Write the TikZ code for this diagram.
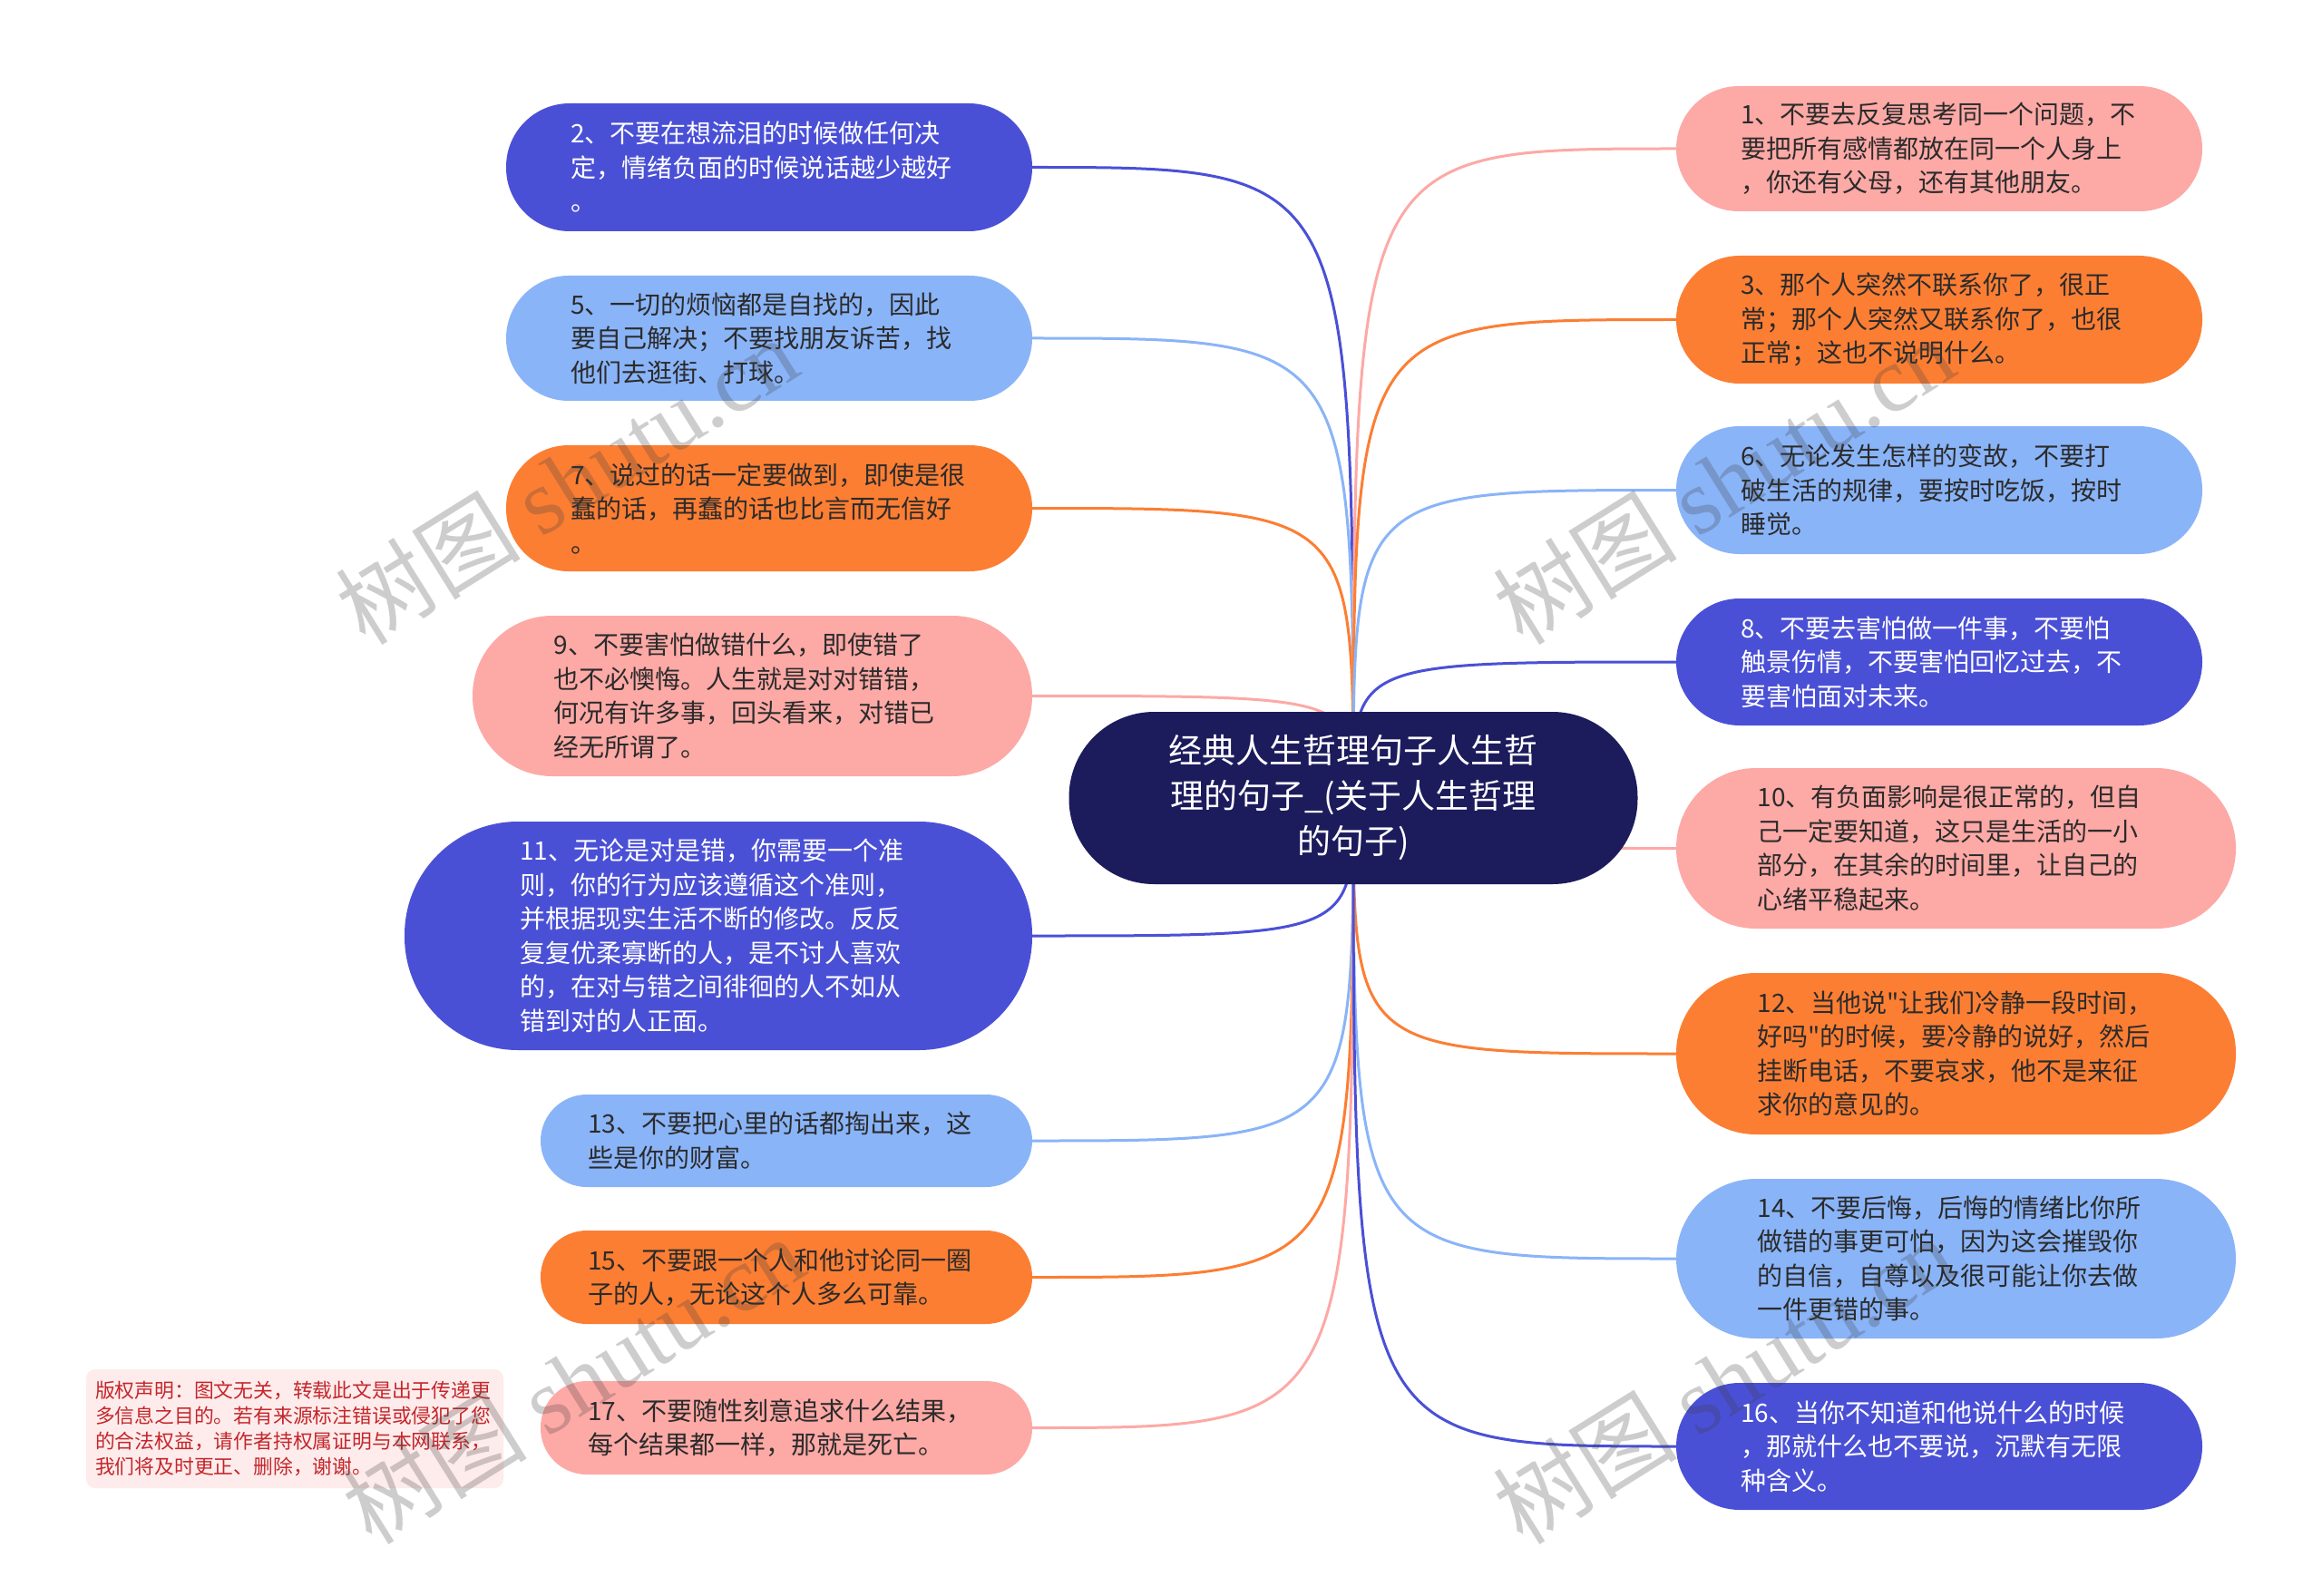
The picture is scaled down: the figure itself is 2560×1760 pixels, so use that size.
\documentclass[tikz,border=0pt]{standalone}
\usepackage{fontspec}
\setmainfont{Noto Sans CJK SC}[Ligatures=TeXOff]
\newfontfamily\wmserif{Liberation Serif}
\usetikzlibrary{backgrounds}
\definecolor{dblue}{HTML}{4A50D6}
\definecolor{lblue}{HTML}{8AB4F8}
\definecolor{orng}{HTML}{FC7E33}
\definecolor{pnk}{HTML}{FDA9A6}
\definecolor{navy}{HTML}{1C1B5C}
\definecolor{darktxt}{HTML}{2B2B2B}
\definecolor{crred}{HTML}{C4262C}
\definecolor{crbg}{HTML}{FDECEB}
\tikzset{
  leaf/.style={rectangle, inner sep=0pt, align=left, text width=438pt,
    font=\fontsize{28}{37.5}\selectfont},
  dk/.style={leaf, fill=dblue, text=white},
  lb/.style={leaf, fill=lblue, text=darktxt},
  og/.style={leaf, fill=orng, text=darktxt},
  pk/.style={leaf, fill=pnk, text=darktxt},
  hub/.style={rectangle, inner sep=0pt, align=center, fill=navy, text=white,
    minimum width=627pt, minimum height=190pt, rounded corners=94pt,
    font=\fontsize{37}{50}\selectfont},
  edge/.style={line width=3pt},
  wm/.style={text=black!75, text opacity=0.26, font=\fontsize{102}{110}\selectfont, inner sep=0pt},
  crbox/.style={rectangle, fill=crbg, rounded corners=10pt, inner sep=0pt, text=crred,
    align=left, text width=440pt, minimum width=460pt, minimum height=131pt,
    font=\fontsize{21.8}{28}\selectfont}
}
\begin{document}
\begin{tikzpicture}[x=1pt,y=-1pt]
\useasboundingbox (0,0) rectangle (2560,1760);

% hub
\node[hub] (c) at (1492,880) {经典人生哲理句子人生哲\\理的句子\_(关于人生哲理\\的句子)};

% left
\node[dk, minimum width=580pt, minimum height=141pt, rounded corners=70pt] (n2) at (848,184.5)
  {2、不要在想流泪的时候做任何决\\定，情绪负面的时候说话越少越好\\。};
\node[lb, minimum width=580pt, minimum height=138pt, rounded corners=69pt] (n5) at (848,373)
  {5、一切的烦恼都是自找的，因此\\要自己解决；不要找朋友诉苦，找\\他们去逛街、打球。};
\node[og, minimum width=580pt, minimum height=139pt, rounded corners=69pt] (n7) at (848,560.5)
  {7、说过的话一定要做到，即使是很\\蠢的话，再蠢的话也比言而无信好\\。};
\node[pk, minimum width=617pt, minimum height=177pt, rounded corners=88pt] (n9) at (829.5,767.5)
  {9、不要害怕做错什么，即使错了\\也不必懊悔。人生就是对对错错，\\何况有许多事，回头看来，对错已\\经无所谓了。};
\node[dk, minimum width=692pt, minimum height=252pt, rounded corners=125pt] (n11) at (792,1032)
  {11、无论是对是错，你需要一个准\\则，你的行为应该遵循这个准则，\\并根据现实生活不断的修改。反反\\复复优柔寡断的人，是不讨人喜欢\\的，在对与错之间徘徊的人不如从\\错到对的人正面。};
\node[lb, minimum width=542pt, minimum height=102pt, rounded corners=51pt] (n13) at (867,1258)
  {13、不要把心里的话都掏出来，这\\些是你的财富。};
\node[og, minimum width=542pt, minimum height=103pt, rounded corners=51pt] (n15) at (867,1408.5)
  {15、不要跟一个人和他讨论同一圈\\子的人，无论这个人多么可靠。};
\node[pk, minimum width=542pt, minimum height=103pt, rounded corners=51pt] (n17) at (867,1574.5)
  {17、不要随性刻意追求什么结果，\\每个结果都一样，那就是死亡。};

% right
\node[pk, minimum width=580pt, minimum height=138pt, rounded corners=69pt] (n1) at (2138,164)
  {1、不要去反复思考同一个问题，不\\要把所有感情都放在同一个人身上\\，你还有父母，还有其他朋友。};
\node[og, minimum width=580pt, minimum height=141pt, rounded corners=70pt] (n3) at (2138,352.5)
  {3、那个人突然不联系你了，很正\\常；那个人突然又联系你了，也很\\正常；这也不说明什么。};
\node[lb, minimum width=580pt, minimum height=141pt, rounded corners=70pt] (n6) at (2138,540.5)
  {6、无论发生怎样的变故，不要打\\破生活的规律，要按时吃饭，按时\\睡觉。};
\node[dk, minimum width=580pt, minimum height=140pt, rounded corners=70pt] (n8) at (2138,730)
  {8、不要去害怕做一件事，不要怕\\触景伤情，不要害怕回忆过去，不\\要害怕面对未来。};
\node[pk, minimum width=617pt, minimum height=177pt, rounded corners=88pt] (n10) at (2156.5,935.5)
  {10、有负面影响是很正常的，但自\\己一定要知道，这只是生活的一小\\部分，在其余的时间里，让自己的\\心绪平稳起来。};
\node[og, minimum width=617pt, minimum height=178pt, rounded corners=88pt] (n12) at (2156.5,1162)
  {12、当他说"让我们冷静一段时间，\\好吗"的时候，要冷静的说好，然后\\挂断电话，不要哀求，他不是来征\\求你的意见的。};
\node[lb, minimum width=617pt, minimum height=176pt, rounded corners=88pt] (n14) at (2156.5,1388)
  {14、不要后悔，后悔的情绪比你所\\做错的事更可怕，因为这会摧毁你\\的自信，自尊以及很可能让你去做\\一件更错的事。};
\node[dk, minimum width=580pt, minimum height=140pt, rounded corners=70pt] (n16) at (2138,1595)
  {16、当你不知道和他说什么的时候\\，那就什么也不要说，沉默有无限\\种含义。};

% copyright
\node[crbox] (cr) at (325,1575.5)
  {版权声明：图文无关，转载此文是出于传递更\\多信息之目的。若有来源标注错误或侵犯了您\\的合法权益，请作者持权属证明与本网联系，\\我们将及时更正、删除，谢谢。};

% connectors
\begin{scope}[on background layer]
\fill[white] (0,0) rectangle (2560,1760);
\foreach \n/\col in {n2/dblue,n5/lblue,n7/orng,n9/pnk,n11/dblue,n13/lblue,n15/orng,n17/pnk}
  \draw[edge,\col] (c.center) .. controls (c.center |- \n.east) .. (\n.east);
\foreach \n/\col in {n1/pnk,n3/orng,n6/lblue,n8/dblue,n10/pnk,n12/orng,n14/lblue,n16/dblue}
  \draw[edge,\col] (c.center) .. controls (c.center |- \n.west) .. (\n.west);
\end{scope}

% watermarks
\node[wm, rotate=32] (w1) at (625,530) {树图 {\wmserif shutu.cn}};
\node[wm, rotate=32] (w2) at (1900,530) {树图 {\wmserif shutu.cn}};
\node[wm, rotate=32] (w3) at (632,1522) {树图 {\wmserif shutu.cn}};
\node[wm, rotate=32] (w4) at (1900,1522) {树图 {\wmserif shutu.cn}};
\end{tikzpicture}
\end{document}
